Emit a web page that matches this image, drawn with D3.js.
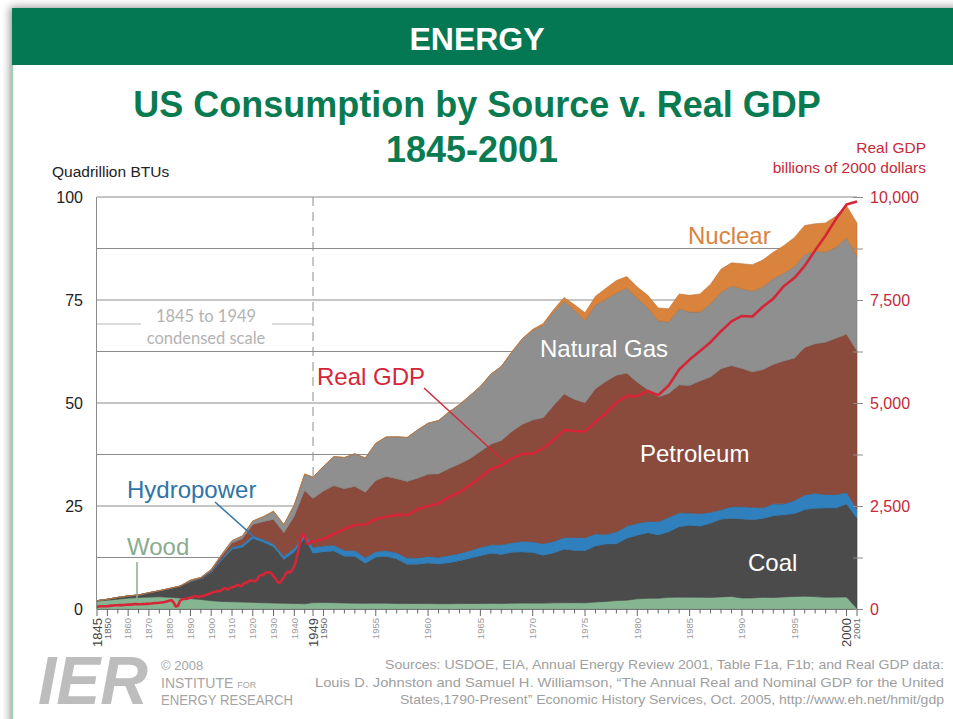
<!DOCTYPE html>
<html>
<head>
<meta charset="utf-8">
<script src="https://cdn.jsdelivr.net/npm/d3@7"></script>
<style>
  body { margin: 0; background: #fff; }
  svg { display: block; font-family: "Liberation Sans", Arial, sans-serif; }
</style>
</head>
<body>
<svg id="chart" width="953" height="719"></svg>
<script>
// US energy consumption by source (quadrillion BTU), 5-year steps to 1945, then yearly
const preYears = [1845,1850,1855,1860,1865,1870,1875,1880,1885,1890,1895,1900,1905,1910,1915,1920,1925,1930,1935,1940,1945];
const energyYears = preYears.concat(d3.range(1949, 2002));

const wood = [1.92,2.14,2.39,2.64,2.77,2.89,2.98,2.85,2.68,2.52,2.31,2.02,1.84,1.77,1.69,1.61,1.53,1.46,1.40,1.36,1.26,
  1.55,1.56,1.54,1.47,1.42,1.39,1.42,1.42,1.33,1.32,1.35,
  1.32,1.30,1.30,1.32,1.34,1.34,1.37,1.34,1.42,1.44,
  1.43,1.43,1.50,1.53,1.54,1.50,1.71,1.84,2.04,2.15,
  2.49,2.59,2.62,2.83,2.88,2.86,2.84,2.82,2.94,3.06,
  2.67,2.69,2.83,2.79,2.94,3.04,3.10,3.01,2.84,2.89,
  2.91,0.10];
const coal = [0.10,0.22,0.42,0.52,0.63,1.05,1.44,2.05,2.84,4.06,4.95,6.84,10.00,12.71,13.29,15.50,14.71,13.64,10.63,12.54,15.97,
  11.98,12.35,12.55,11.31,11.37,9.72,11.17,11.35,10.82,9.53,9.52,
  9.84,9.62,9.91,10.41,10.96,11.58,12.14,11.91,12.33,12.38,
  12.27,11.60,12.08,12.97,12.66,12.66,13.58,13.92,13.77,15.04,
  15.42,15.91,15.32,15.89,17.07,17.48,17.26,18.01,18.85,18.93,
  19.17,18.99,19.12,19.84,19.91,20.09,21.00,21.45,21.66,21.62,
  22.58,21.95];
const hydro = [0,0,0,0,0,0,0,0,0,0.02,0.09,0.25,0.39,0.54,0.66,0.74,0.67,0.75,0.81,0.88,1.44,
  1.43,1.42,1.42,1.47,1.41,1.36,1.36,1.44,1.52,1.59,1.55,
  1.61,1.66,1.82,1.77,1.89,2.06,2.06,2.35,2.35,2.65,
  2.63,2.82,2.86,2.86,3.18,3.16,2.98,2.33,2.94,2.93,
  2.90,2.76,3.27,3.53,3.39,2.97,3.07,2.64,2.33,2.84,
  3.01,3.01,2.62,2.89,2.68,3.21,3.59,3.64,3.30,3.27,
  2.81,2.24];
const petroleum = [0,0,0,0.00,0.01,0.01,0.01,0.10,0.04,0.16,0.17,0.23,0.61,1.01,1.42,2.68,4.28,5.90,5.68,7.76,10.11,
  11.88,13.32,14.43,14.96,15.56,15.84,17.26,17.94,17.93,18.53,19.32,
  19.92,20.22,21.05,21.70,22.30,23.25,24.40,25.28,26.98,28.34,
  29.52,30.56,32.95,34.84,33.46,32.73,35.18,37.12,37.97,37.12,
  34.20,31.93,30.23,30.05,31.05,30.92,32.20,32.87,34.22,34.21,
  33.55,32.85,33.53,33.84,34.67,34.55,35.76,36.27,36.93,37.96,
  38.40,38.33];
const naturalGas = [0,0,0,0,0,0,0,0,0,0.26,0.15,0.25,0.37,0.54,0.67,0.81,1.21,1.97,1.97,2.73,3.97,
  5.15,5.97,7.05,7.55,7.91,8.33,9.00,9.61,10.19,10.66,11.72,
  12.39,12.93,13.73,14.40,15.29,15.77,17.00,17.95,19.21,20.68,
  21.80,22.47,22.70,22.51,21.73,19.95,20.35,19.93,20.00,20.67,
  20.39,19.93,18.51,17.36,18.51,17.83,16.71,17.74,18.55,19.38,
  19.30,19.61,20.13,20.83,21.29,22.16,22.56,22.53,21.89,22.04,
  23.33,23.00];
const nuclear = [0,0,0,0,0,0,0,0,0,0,0,0,0,0,0,0,0,0,0,0,0,
  0,0,0,0,0,0,0,0,0,0.00,0.00,
  0.01,0.02,0.03,0.04,0.04,0.04,0.06,0.09,0.14,0.15,
  0.24,0.41,0.58,0.91,1.27,1.90,2.11,2.70,3.02,2.78,
  2.74,3.01,3.13,3.20,3.55,4.08,4.38,4.75,5.59,5.60,
  6.10,6.42,6.48,6.41,6.69,7.08,7.09,6.60,7.07,7.61,
  7.86,8.03];

// Real GDP, billions of 2000 dollars, yearly 1845-2001
const gdpYears = d3.range(1845, 2002);
const gdp = [55,60,65,66,67,
  70,75,82,86,90,92,94,95,97,104,
  106,106,113,118,119,117,116,119,122,125,
  129,132,138,144,146,150,158,166,174,190,
  205,212,150,60,80,200,236,245,248,258,
  278,289,317,301,289,316,312,334,349,371,
  382,413,417,437,432,460,495,504,468,518,
  527,542,570,589,554,571,637,629,681,693,
  683,670,707,799,821,826,877,885,893,865,
  791,740,644,636,704,767,867,911,880,951,
  1034,1211,1435,1671,1830,1800,1590,1575,1643,
  1635,1700,1820,1940,2040,2050,2180,2240,2290,2280,2420,
  2500,2560,2715,2834,2999,3191,3399,3485,3653,3765,
  3772,3899,4105,4342,4320,4311,4541,4751,5015,5173,
  5162,5292,5189,5424,5814,6054,6264,6475,6743,6981,
  7113,7101,7337,7533,7836,8032,8329,8704,9067,9470,
  9817,9891];

const sources = ["Wood", "Coal", "Hydropower", "Petroleum", "Natural Gas", "Nuclear"];
const sourceValues = [wood, coal, hydro, petroleum, naturalGas, nuclear];
const colors = ["#86b592", "#4b4b4b", "#2f80bd", "#8a4b3c", "#8f8f8f", "#d9833d"];

const leftTicks = [0, 25, 50, 75, 100];
const rightTicks = [0, 2500, 5000, 7500, 10000];

const svg = d3.select("#chart");
const W = 953, H = 719;

// card, shadow and header band
const defs = svg.append("defs");
const f = defs.append("filter").attr("id", "shadow")
    .attr("x", "-5%").attr("y", "-5%").attr("width", "110%").attr("height", "110%");
f.append("feDropShadow").attr("dx", -2).attr("dy", -1)
    .attr("stdDeviation", 4).attr("flood-color", "#666").attr("flood-opacity", 0.7);

svg.append("rect").attr("x", 12).attr("y", 8).attr("width", 980).attr("height", 760)
    .attr("fill", "#fff").attr("filter", "url(#shadow)");
svg.append("rect").attr("x", 12).attr("y", 8).attr("width", 960).attr("height", 57)
    .attr("fill", "#047853");
svg.append("line").attr("x1", 12.5).attr("x2", 12.5).attr("y1", 65).attr("y2", H)
    .attr("stroke", "#9fd5bb").attr("stroke-width", 1.5);

svg.append("text").attr("x", 477).attr("y", 50).attr("text-anchor", "middle")
    .attr("fill", "#fff").attr("font-size", 32).attr("font-weight", "bold").text("ENERGY");

svg.append("text").attr("x", 477).attr("y", 117).attr("text-anchor", "middle")
    .attr("fill", "#0a7a50").attr("font-size", 36).attr("font-weight", "bold")
    .text("US Consumption by Source v. Real GDP");
svg.append("text").attr("x", 472).attr("y", 162).attr("text-anchor", "middle")
    .attr("fill", "#0a7a50").attr("font-size", 36).attr("font-weight", "bold")
    .text("1845-2001");

svg.append("text").attr("x", 52).attr("y", 177).attr("fill", "#222")
    .attr("font-size", 15.5).text("Quadrillion BTUs");
svg.append("text").attr("x", 926).attr("y", 153).attr("text-anchor", "end")
    .attr("fill", "#c42a3a").attr("font-size", 15.5).text("Real GDP");
svg.append("text").attr("x", 926).attr("y", 173).attr("text-anchor", "end")
    .attr("fill", "#c42a3a").attr("font-size", 15.5).text("billions of 2000 dollars");

// scales: 1845-1949 condensed, 1949-2001 full
const x = d3.scaleLinear().domain([1845, 1949, 2001]).range([97, 313, 857]);
const y = d3.scaleLinear().domain([0, 100]).range([609, 197]);
const yR = d3.scaleLinear().domain([0, 10000]).range([609, 197]);

// gridlines every 12.5
svg.append("g").selectAll("line")
    .data(d3.range(12.5, 100.1, 12.5))
    .join("line")
    .attr("x1", x(1845)).attr("x2", x(2001))
    .attr("y1", d => y(d)).attr("y2", d => y(d))
    .attr("stroke", "#8c8c8c").attr("stroke-width", 1);
svg.append("line").attr("x1", x(1845) - 0.5).attr("x2", x(1845) - 0.5)
    .attr("y1", y(100)).attr("y2", y(0)).attr("stroke", "#8c8c8c");

// dashed 1949 marker
svg.append("line").attr("x1", x(1949)).attr("x2", x(1949))
    .attr("y1", y(100)).attr("y2", y(0))
    .attr("stroke", "#8c8c8c").attr("stroke-dasharray", "9,6");

// condensed scale note
svg.append("text").attr("x", 206).attr("y", 322).attr("text-anchor", "middle")
    .attr("fill", "#b3b3b3").attr("font-size", 16.5).attr("font-family", "Lato, sans-serif")
    .text("1845 to 1949");
svg.append("text").attr("x", 206).attr("y", 344).attr("text-anchor", "middle")
    .attr("fill", "#b3b3b3").attr("font-size", 16.5).attr("font-family", "Lato, sans-serif")
    .text("condensed scale");
svg.append("line").attr("x1", 97).attr("x2", 141).attr("y1", 324).attr("y2", 324)
    .attr("stroke", "#b8b8b8");
svg.append("line").attr("x1", 272).attr("x2", 313).attr("y1", 324).attr("y2", 324)
    .attr("stroke", "#b8b8b8");

// stacked areas
const table = energyYears.map((yr, i) => {
    const row = { year: yr };
    sources.forEach((s, k) => row[s] = sourceValues[k][i]);
    return row;
});
const series = d3.stack().keys(sources)(table);
const area = d3.area()
    .x(d => x(d.data.year))
    .y0(d => y(d[0]))
    .y1(d => y(d[1]));

svg.append("g").selectAll("path")
    .data(series)
    .join("path")
    .attr("d", area)
    .attr("fill", (d, i) => colors[i])
    .attr("stroke", (d, i) => d3.color(colors[i]).darker(0.4))
    .attr("stroke-width", 0.6);

// GDP line
const line = d3.line()
    .x((d, i) => x(gdpYears[i]))
    .y(d => yR(d));
svg.append("path").datum(gdp)
    .attr("d", line)
    .attr("fill", "none")
    .attr("stroke", "#d42637")
    .attr("stroke-width", 2.6)
    .attr("stroke-linejoin", "round");

// x axis
const tickYears = d3.range(1845, 1946, 5).concat(d3.range(1949, 2002));
const labelYears = [1845].concat(d3.range(1850, 1941, 10), [1949], d3.range(1950, 2001, 5), [2001]);
const bigYears = [1845, 1949, 2000];
const darkYears = [1850, 1950, 2001];

svg.append("line").attr("x1", x(1845)).attr("x2", x(2001))
    .attr("y1", y(0) + 0.5).attr("y2", y(0) + 0.5).attr("stroke", "#777");
svg.append("g").selectAll("line")
    .data(tickYears)
    .join("line")
    .attr("x1", d => x(d)).attr("x2", d => x(d))
    .attr("y1", y(0))
    .attr("y2", d => y(0) + (labelYears.includes(d) ? 7 : 4.5))
    .attr("stroke", "#666").attr("stroke-width", 1);

svg.append("g").selectAll("text")
    .data(labelYears)
    .join("text")
    .attr("transform", d => `translate(${x(d)},${y(0) + 9}) rotate(-90)`)
    .attr("dy", "0.35em")
    .attr("text-anchor", "end")
    .attr("font-size", d => bigYears.includes(d) ? 13 : 9.5)
    .attr("fill", d => bigYears.includes(d) ? "#444" : (darkYears.includes(d) ? "#666" : "#9a9a9a"))
    .text(d => d);

// left axis labels
svg.append("g")
    .attr("transform", `translate(${x(1845) - 11},0)`)
    .call(d3.axisLeft(y).tickValues(leftTicks).tickSize(0))
    .call(g => g.select(".domain").remove())
    .call(g => g.selectAll("text").attr("font-size", 16).attr("fill", "#222")
        .attr("font-family", "Liberation Sans, Arial, sans-serif"));

// right axis
svg.append("g")
    .attr("transform", `translate(${x(2001) - 4},0)`)
    .call(d3.axisRight(yR).tickValues(d3.range(0, 10001, 1250)).tickSize(10).tickFormat(""))
    .call(g => g.select(".domain").remove())
    .call(g => g.selectAll("line").attr("stroke", "#8c8c8c"));
svg.append("g")
    .attr("transform", `translate(${x(2001) + 2},0)`)
    .call(d3.axisRight(yR).tickValues(rightTicks).tickSize(0).tickPadding(11).tickFormat(d3.format(",")))
    .call(g => g.select(".domain").remove())
    .call(g => g.selectAll("text").attr("font-size", 16).attr("fill", "#c42a3a")
        .attr("font-family", "Liberation Sans, Arial, sans-serif"));

// series labels
const lab = (t, xx, yy, fill) => svg.append("text").attr("x", xx).attr("y", yy)
    .attr("font-size", 24).attr("fill", fill).text(t);
lab("Nuclear", 688, 244, "#d9833d");
lab("Natural Gas", 540, 357, "#fff");
lab("Petroleum", 640, 462, "#fff");
lab("Coal", 748, 571, "#fff");
lab("Real GDP", 317, 385, "#d42637");
lab("Hydropower", 127, 498, "#2f74a8");
lab("Wood", 127, 555, "#8aab8f");

svg.append("line").attr("x1", 424).attr("y1", 388).attr("x2", 507).attr("y2", 464)
    .attr("stroke", "#d42637").attr("stroke-width", 1.5);
svg.append("line").attr("x1", 215).attr("y1", 502).attr("x2", 253).attr("y2", 536)
    .attr("stroke", "#2f74a8").attr("stroke-width", 1.5);
svg.append("line").attr("x1", 137).attr("y1", 562).attr("x2", 137).attr("y2", 600)
    .attr("stroke", "#8aab8f").attr("stroke-width", 1.5);

// footer
svg.append("text").attr("x", 38).attr("y", 704).attr("font-size", 68)
    .attr("font-weight", "bold").attr("font-style", "italic").attr("fill", "#bdbdbd")
    .attr("textLength", 110).attr("lengthAdjust", "spacingAndGlyphs").text("IER");
svg.append("text").attr("x", 161).attr("y", 670).attr("font-size", 13).attr("fill", "#a5a5a5").text("© 2008");
const inst = svg.append("text").attr("x", 161).attr("y", 688).attr("font-size", 14).attr("fill", "#a5a5a5");
inst.append("tspan").text("INSTITUTE ");
inst.append("tspan").attr("font-size", 9).text("FOR");
svg.append("text").attr("x", 161).attr("y", 705).attr("font-size", 14).attr("fill", "#a5a5a5")
    .attr("textLength", 132).attr("lengthAdjust", "spacingAndGlyphs").text("ENERGY RESEARCH");

const srcLines = [
    "Sources: USDOE, EIA, Annual Energy Review 2001, Table F1a, F1b; and Real GDP data:",
    "Louis D. Johnston and Samuel H. Williamson, \u201cThe Annual Real and Nominal GDP for the United",
    "States,1790-Present\u201d Economic History Services, Oct. 2005, http://www.eh.net/hmit/gdp"
];
const srcWidths = [559, 629, 544];
svg.append("g").selectAll("text")
    .data(srcLines)
    .join("text")
    .attr("x", 944)
    .attr("y", (d, i) => 669 + i * 17.5)
    .attr("text-anchor", "end")
    .attr("font-size", 13)
    .attr("fill", "#a0a0a0")
    .attr("textLength", (d, i) => srcWidths[i])
    .attr("lengthAdjust", "spacingAndGlyphs")
    .text(d => d);
</script>
</body>
</html>
